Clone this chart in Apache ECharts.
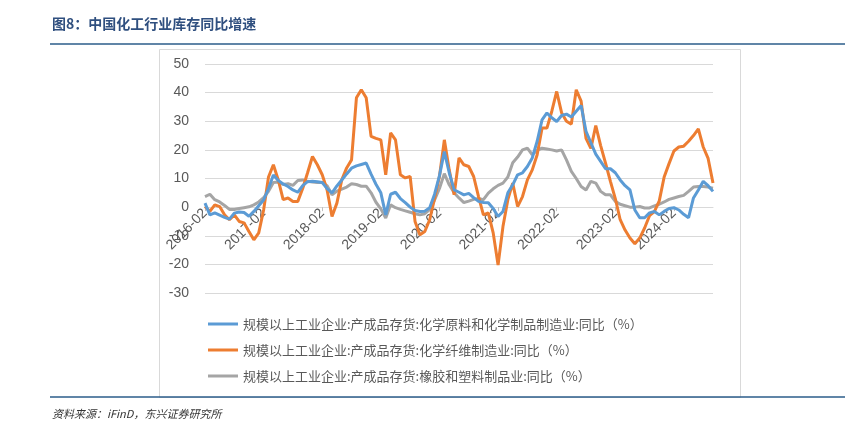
<!DOCTYPE html>
<html>
<head>
<meta charset="utf-8">
<script src="https://cdn.jsdelivr.net/npm/echarts@6/dist/echarts.min.js"></script>
<style>
html,body{margin:0;padding:0;background:#fff;}
#c{width:856px;height:428px;}
</style>
</head>
<body>
<div id="c"></div>
<script>
const categories = [
'2016-02','2016-03','2016-04','2016-05','2016-06','2016-07','2016-08','2016-09','2016-10','2016-11','2016-12',
'2017-01','2017-02','2017-03','2017-04','2017-05','2017-06','2017-07','2017-08','2017-09','2017-10','2017-11','2017-12',
'2018-01','2018-02','2018-03','2018-04','2018-05','2018-06','2018-07','2018-08','2018-09','2018-10','2018-11','2018-12',
'2019-01','2019-02','2019-03','2019-04','2019-05','2019-06','2019-07','2019-08','2019-09','2019-10','2019-11','2019-12',
'2020-01','2020-02','2020-03','2020-04','2020-05','2020-06','2020-07','2020-08','2020-09','2020-10','2020-11','2020-12',
'2021-01','2021-02','2021-03','2021-04','2021-05','2021-06','2021-07','2021-08','2021-09','2021-10','2021-11','2021-12',
'2022-01','2022-02','2022-03','2022-04','2022-05','2022-06','2022-07','2022-08','2022-09','2022-10','2022-11','2022-12',
'2023-01','2023-02','2023-03','2023-04','2023-05','2023-06','2023-07','2023-08','2023-09','2023-10','2023-11','2023-12',
'2024-01','2024-02','2024-03','2024-04','2024-05','2024-06','2024-07','2024-08','2024-09','2024-10'
];

const seriesNames = [
'规模以上工业企业:产成品存货:化学原料和化学制品制造业:同比（%）',
'规模以上工业企业:产成品存货:化学纤维制造业:同比（%）',
'规模以上工业企业:产成品存货:橡胶和塑料制品业:同比（%）'
];

const chemRaw = [
1.4,-2.7,-2,-2.8,-3.6,-4.2,-2.1,-1.7,-1.9,-3.2,-1.5,
0.5,2.5,6.5,11.2,9.3,8.1,7.2,6,5.2,7.5,8.9,9,
8.9,8.6,6.5,5,7.4,9.5,11.6,13.6,14.4,14.9,15.4,11.5,
8,5,-2.7,4.5,5.2,3,1.6,0,-1.2,-1.5,-1.4,-0.2,
4.5,11,19.4,12,6,5.2,4.3,4.8,3.3,2,1.6,1.5,
-0.5,-3.3,-1.5,5,7.8,11.3,12,14.2,17.2,23,30.5,32.9,
31.2,29.9,32,32.5,31.5,33.5,35.5,26.5,22.5,18.5,16,13.4,
13.4,12,9.5,7.5,6,-1,-3.7,-3.7,-2,-1.5,-2.7,-1.5,
-0.5,-0.2,-1,-2.5,-3.7,3.2,6,9,7.5,5.5
];

const chemFiber = [
0.2,-1.5,0.8,0.2,-2.7,-4.4,-2.7,-5,-5.5,-8.5,-11.4,
-9,-1,10.5,14.8,9.5,2.6,3.2,2,2,6.5,12,17.7,
14.8,11.3,6,-3.3,1.4,9.5,13.7,16.5,38.2,41,38.2,24.7,
24,23.5,11.3,25.9,23.5,11.3,10.2,10.7,-5,-9.7,-8.5,-4.4,
3,10.7,23.5,13,4.3,17.2,14.8,14.2,10.7,3.7,-2.7,-2,
-9,-20.2,-6.8,2.6,8.4,0.2,3.7,9.5,13,18.3,27.6,27.6,
33.5,40.4,33,30,29,41,37,24,20.5,28.5,21.5,15.4,
9,3,-4.4,-8,-10.8,-12.8,-10.8,-7.3,-3,-1.6,2.2,10.5,
15.2,19.6,21,21.3,23,25,27.3,21,17,8.4
];

const rubberPlastic = [
3.7,4.5,2.6,1.8,0.6,-0.8,-0.8,-0.5,-0.2,0.1,0.8,
1.8,3.3,5.5,8.6,8.8,7.9,8.2,7.6,9.3,9.5,9,8.8,
8.6,8.6,7.5,4.3,5.6,6.3,7,8.2,7.9,7.3,7.3,5,
1.7,-0.6,-3.8,0.8,-0.2,-0.8,-1.3,-1.8,-2.3,-2.7,-2.3,-0.9,
2.5,6.5,11.7,7.8,5,3.2,1.6,2.1,2.7,3,2.6,4.9,
6.4,7.6,8.4,10.5,15.5,17.5,20,20.6,18.3,19.8,20.6,20.3,
20,19.6,20,16.5,12.5,10,7.2,6,9,8.4,5.5,4.3,
4.3,2,1,0.5,0,0,0.2,-0.3,-0.3,0.4,1,1.8,
2.7,3.2,3.7,4.1,5.5,7,7.2,7.2,7,6.6
];

const yMin = -30, yMax = 50, yStep = 10;
const titleText = '图8：中国化工行业库存同比增速';
const sourceText = '资料来源：iFinD，东兴证券研究所';

const colors = ['#5B9BD5', '#ED7D31', '#A5A5A5'];
const seriesData = [chemRaw, chemFiber, rubberPlastic];

const gridTop = 64, gridBottom = 135, chartH = 428;
const plotH = chartH - gridTop - gridBottom;
// distance from bottom of plot to the zero line, so the category axis sits at 0
const zeroOffset = -plotH * (0 - yMin) / (yMax - yMin);

const chart = echarts.init(document.getElementById('c'), null, {renderer: 'canvas'});
const font = '"Noto Sans CJK SC", "Liberation Sans", sans-serif';
const numFont = '"Liberation Sans", Arial, sans-serif';

chart.setOption({
  animation: false,
  backgroundColor: '#ffffff',
  color: colors,
  graphic: [
    {type: 'rect', left: 157, top: 47, shape: {width: 581, height: 348},
     style: {fill: 'none', stroke: '#d9d9d9', lineWidth: 1}, silent: true, z: -1},
    {type: 'line', shape: {x1: 50, y1: 44, x2: 845, y2: 44},
     style: {stroke: '#2B5C8A', lineWidth: 1.5}, silent: true},
    {type: 'line', shape: {x1: 50, y1: 397, x2: 845, y2: 397},
     style: {stroke: '#2B5C8A', lineWidth: 1.5}, silent: true},
    {type: 'text', left: 52, top: 17,
     style: {text: titleText, fill: '#2F4F7F', font: 'bold 14px ' + font}, silent: true},
    {type: 'text', left: 52, top: 408,
     style: {text: sourceText, fill: '#333333', font: 'italic 11px ' + font}, silent: true}
  ],
  grid: {left: 205, right: 143, top: gridTop, bottom: gridBottom, containLabel: false},
  legend: {
    orient: 'vertical',
    left: 203,
    top: 311,
    icon: 'rect',
    itemWidth: 30,
    itemHeight: 3,
    itemGap: 10,
    textStyle: {color: '#595959', fontSize: 13, fontFamily: font, lineHeight: 16},
    data: seriesNames
  },
  xAxis: {
    type: 'category',
    data: categories,
    boundaryGap: false,
    position: 'bottom',
    offset: zeroOffset,
    axisLine: {onZero: false, lineStyle: {color: '#d9d9d9', width: 1}},
    axisTick: {show: true, interval: 11, length: 4, lineStyle: {color: '#bfbfbf'}},
    axisLabel: {interval: 11, rotate: 45, color: '#595959', fontSize: 14, fontFamily: numFont, margin: 4},
    splitLine: {show: false}
  },
  yAxis: {
    type: 'value',
    min: yMin,
    max: yMax,
    interval: yStep,
    axisLine: {show: false},
    axisTick: {show: false},
    axisLabel: {color: '#595959', fontSize: 14, fontFamily: numFont, margin: 16},
    splitLine: {lineStyle: {color: '#d9d9d9', width: 1}}
  },
  series: seriesNames.map((name, k) => ({
    name: name,
    type: 'line',
    data: seriesData[k],
    showSymbol: false,
    symbol: 'none',
    smooth: false,
    lineStyle: {width: 3, color: colors[k]},
    itemStyle: {color: colors[k]},
    z: 3 - k
  }))
});
</script>
</body>
</html>
